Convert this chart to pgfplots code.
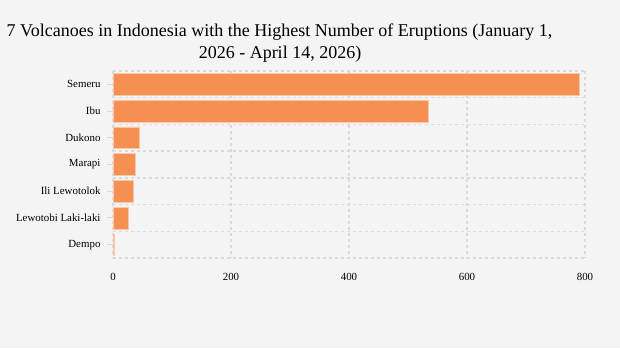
\documentclass[border=0pt]{standalone}
\usepackage{pgfplots}
\pgfplotsset{compat=1.18}
\usepackage{fontspec}
\setmainfont{Liberation Serif}
\definecolor{bg}{HTML}{F4F4F4}
\definecolor{barc}{HTML}{F58F52}
\definecolor{gridc}{HTML}{DADADA}
\begin{document}
\begin{tikzpicture}[x=1pt,y=1pt]
\useasboundingbox (0,0) rectangle (620,348);
\fill[bg] (0,0) rectangle (620,348);
\begin{axis}[at={(113pt,90pt)}, anchor=south west, scale only axis,
  width=472pt, height=187pt,
  xmin=0, xmax=800, ymin=-0.5, ymax=6.5, y dir=reverse,
  xbar, bar width=0.81,
  xtick={0,200,...,800},
  ytick={0,...,6},
  yticklabels={Semeru,Ibu,Dukono,Marapi,Ili Lewotolok,Lewotobi Laki-laki,Dempo},
  minor ytick={-0.5,0.5,...,6.5},
  xmajorgrids=true, ymajorgrids=false, yminorgrids=true,
  grid style={gridc, line width=1.3pt, dash pattern=on 3pt off 3pt},
  minor grid style={gridc, line width=1.3pt, dash pattern=on 3pt off 3pt},
  axis line style={draw=none},
  ytick pos=left, xtick pos=bottom,
  tick align=outside, major tick length=6pt, minor tick length=0pt,
  xtick style={draw=none},
  ytick style={gridc, line width=1pt},
  ticklabel style={font=\fontsize{10.9}{12}\selectfont, text=black},
  yticklabel style={xshift=-3pt},
  xticklabel style={yshift=-6pt},
  /pgf/number format/assume math mode=true,
]
\addplot[fill=barc, draw=barc!50!white, line width=0.4pt] coordinates {
(790,0) (535,1) (44,2) (37,3) (34,4) (25,5) (2,6)};
\end{axis}
\node[font=\fontsize{18}{21}\selectfont, anchor=base, inner sep=0pt] at (279.5,311) {7 Volcanoes in Indonesia with the Highest Number of Eruptions (January 1,};
\node[font=\fontsize{18}{21}\selectfont, anchor=base, inner sep=0pt] at (280,289) {2026 - April 14, 2026)};
\end{tikzpicture}
\end{document}
